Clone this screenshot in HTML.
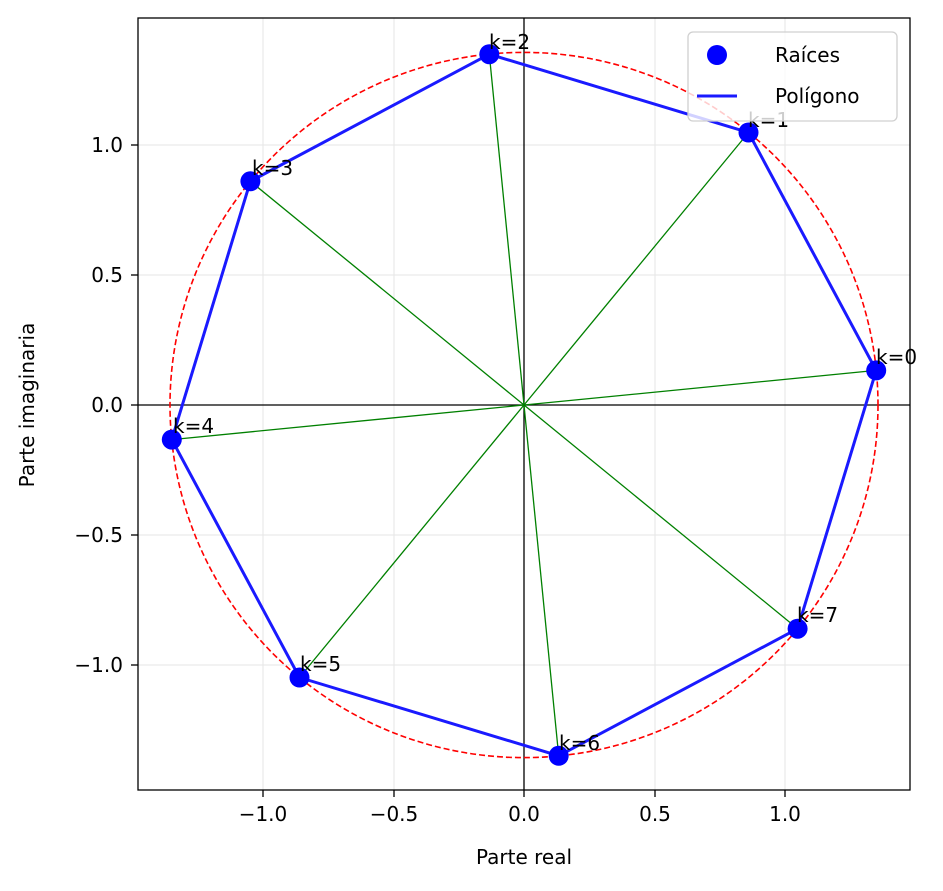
<!DOCTYPE html>
<html><head><meta charset="utf-8"><style>
html,body{margin:0;padding:0;background:#fff}
svg{display:block;font-family:"DejaVu Sans","Liberation Sans",sans-serif}
</style></head><body>
<svg width="943" height="891" viewBox="0 0 943 891" xmlns="http://www.w3.org/2000/svg">
<rect width="943" height="891" fill="#fff"/>
<g stroke="#e6e6e6" stroke-width="1">
<line x1="263" y1="18" x2="263" y2="790"/><line x1="394" y1="18" x2="394" y2="790"/><line x1="524" y1="18" x2="524" y2="790"/><line x1="655" y1="18" x2="655" y2="790"/><line x1="785" y1="18" x2="785" y2="790"/>
<line x1="138" y1="145" x2="910" y2="145"/><line x1="138" y1="275" x2="910" y2="275"/><line x1="138" y1="405" x2="910" y2="405"/><line x1="138" y1="535" x2="910" y2="535"/><line x1="138" y1="665" x2="910" y2="665"/>
</g>
<line x1="138" y1="405" x2="910" y2="405" stroke="#000" stroke-width="1.3"/>
<line x1="524" y1="18" x2="524" y2="790" stroke="#000" stroke-width="1.3"/>
<ellipse cx="524" cy="405" rx="354" ry="352.6" fill="none" stroke="red" stroke-width="1.6" stroke-dasharray="6,3"/>
<g stroke="green" stroke-width="1.3">
<line x1="524" y1="405" x2="876.2" y2="370.4"/><line x1="524" y1="405" x2="748.5" y2="132.5"/><line x1="524" y1="405" x2="489.3" y2="54.2"/><line x1="524" y1="405" x2="250.4" y2="181.3"/><line x1="524" y1="405" x2="171.8" y2="439.6"/><line x1="524" y1="405" x2="299.5" y2="677.5"/><line x1="524" y1="405" x2="558.7" y2="755.8"/><line x1="524" y1="405" x2="797.6" y2="628.7"/>
</g>
<polygon points="876.2,370.4 748.5,132.5 489.3,54.2 250.4,181.3 171.8,439.6 299.5,677.5 558.7,755.8 797.6,628.7" fill="none" stroke="#1a1aff" stroke-width="3" stroke-linejoin="round"/>
<g fill="blue">
<circle cx="876.2" cy="370.4" r="10"/><circle cx="748.5" cy="132.5" r="10"/><circle cx="489.3" cy="54.2" r="10"/><circle cx="250.4" cy="181.3" r="10"/><circle cx="171.8" cy="439.6" r="10"/><circle cx="299.5" cy="677.5" r="10"/><circle cx="558.7" cy="755.8" r="10"/><circle cx="797.6" cy="628.7" r="10"/>
</g>
<g font-size="20" fill="#000">
<text x="876" y="364">k=0</text><text x="748" y="127">k=1</text><text x="489" y="49">k=2</text><text x="252" y="175">k=3</text><text x="173" y="433">k=4</text><text x="300" y="671">k=5</text><text x="559" y="750">k=6</text><text x="797" y="622">k=7</text>
</g>
<rect x="138" y="18" width="772" height="772" fill="none" stroke="#000" stroke-width="1.3"/>
<g stroke="#000" stroke-width="1.3">
<line x1="263" y1="790" x2="263" y2="797"/><line x1="394" y1="790" x2="394" y2="797"/><line x1="524" y1="790" x2="524" y2="797"/><line x1="655" y1="790" x2="655" y2="797"/><line x1="785" y1="790" x2="785" y2="797"/>
<line x1="131" y1="145" x2="138" y2="145"/><line x1="131" y1="275" x2="138" y2="275"/><line x1="131" y1="405" x2="138" y2="405"/><line x1="131" y1="535" x2="138" y2="535"/><line x1="131" y1="665" x2="138" y2="665"/>
</g>
<g font-size="20" fill="#000" text-anchor="middle">
<text x="263" y="821">−1.0</text><text x="394" y="821">−0.5</text><text x="524" y="821">0.0</text><text x="655" y="821">0.5</text><text x="785" y="821">1.0</text>
<text x="524" y="864">Parte real</text>
</g>
<g font-size="20" fill="#000" text-anchor="end">
<text x="123" y="152">1.0</text><text x="123" y="282">0.5</text><text x="123" y="412">0.0</text><text x="123" y="542">−0.5</text><text x="123" y="672">−1.0</text>
</g>
<text x="34" y="405" font-size="20" text-anchor="middle" transform="rotate(-90 34 405)">Parte imaginaria</text>
<rect x="688" y="32" width="209" height="89" rx="5" fill="#fff" fill-opacity="0.8" stroke="#d0d0d0" stroke-width="1.3"/>
<circle cx="717" cy="55" r="10" fill="blue"/>
<line x1="697" y1="96" x2="737" y2="96" stroke="#1a1aff" stroke-width="3"/>
<text x="775" y="62" font-size="20">Raíces</text>
<text x="775" y="103" font-size="20">Polígono</text>
</svg>
</body></html>
